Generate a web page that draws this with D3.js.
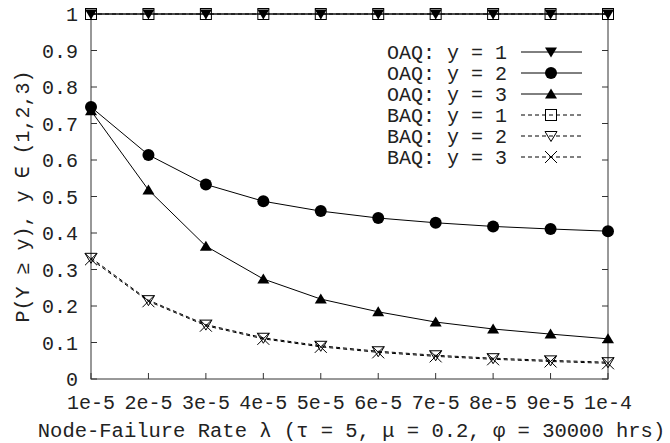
<!DOCTYPE html>
<html>
<head>
<meta charset="utf-8">
<script src="https://cdn.jsdelivr.net/npm/d3@7"></script>
<style>
  body { margin: 0; background: #fff; }
  svg { display: block; }
  text { font-family: "Liberation Mono", "Courier New", monospace; font-size: 20px; fill: #222; }
</style>
</head>
<body>
<svg id="chart" width="670" height="443"></svg>
<script>
// node failure rates (x) and tick labels
var rates = [1e-5, 2e-5, 3e-5, 4e-5, 5e-5, 6e-5, 7e-5, 8e-5, 9e-5, 1e-4]
var xTickLabels = ["1e-5", "2e-5", "3e-5", "4e-5", "5e-5", "6e-5", "7e-5", "8e-5", "9e-5", "1e-4"]
var yTicks = [0, 0.1, 0.2, 0.3, 0.4, 0.5, 0.6, 0.7, 0.8, 0.9, 1]
var yTickLabels = ["0", "0.1", "0.2", "0.3", "0.4", "0.5", "0.6", "0.7", "0.8", "0.9", "1"]

var oaq1 = [1, 1, 1, 1, 1, 1, 1, 1, 1, 1]
var oaq2 = [0.745, 0.614, 0.533, 0.487, 0.460, 0.441, 0.428, 0.418, 0.411, 0.405]
var oaq3 = [0.735, 0.518, 0.364, 0.274, 0.219, 0.184, 0.156, 0.137, 0.123, 0.110]
var baq1 = [1, 1, 1, 1, 1, 1, 1, 1, 1, 1]
var baq2 = [0.332, 0.216, 0.149, 0.113, 0.091, 0.076, 0.065, 0.057, 0.051, 0.046]
var baq3 = [0.328, 0.213, 0.146, 0.110, 0.088, 0.073, 0.062, 0.054, 0.048, 0.043]

var seriesNames = ["OAQ: y = 1", "OAQ: y = 2", "OAQ: y = 3", "BAQ: y = 1", "BAQ: y = 2", "BAQ: y = 3"]
var seriesValues = [oaq1, oaq2, oaq3, baq1, baq2, baq3]
var seriesMarkers = ["triDown", "circle", "triUp", "square", "triDownOpen", "cross"]
var seriesDashed = [false, false, false, true, true, true]

var margin = { top: 14, bottom: 64, left: 91, right: 62 }
var width = 670
var height = 443

var svg = d3.select("#chart")

var xScale = d3.scaleLinear()
    .domain([1e-5, 1e-4])
    .range([margin.left, width - margin.right])

var yScale = d3.scaleLinear()
    .domain([0, 1])
    .range([height - margin.bottom, margin.top])

var x0 = xScale.range()[0], x1 = xScale.range()[1]
var y0 = yScale.range()[0], y1 = yScale.range()[1]
var tickLen = 6

var axisG = svg.append("g")

// ticks (inward, mirrored like gnuplot)
yTicks.forEach(function (v, i) {
    var y = yScale(v)
    axisG.append("line").attr("x1", x0).attr("x2", x0 + tickLen).attr("y1", y).attr("y2", y)
        .attr("stroke", "#333")
    axisG.append("line").attr("x1", x1).attr("x2", x1 - tickLen).attr("y1", y).attr("y2", y)
        .attr("stroke", "#333")
    axisG.append("text")
        .attr("x", x0 - 13)
        .attr("y", y)
        .attr("dy", "0.35em")
        .attr("text-anchor", "end")
        .text(yTickLabels[i])
})

rates.forEach(function (v, i) {
    var x = xScale(v)
    axisG.append("line").attr("x1", x).attr("x2", x).attr("y1", y0).attr("y2", y0 - tickLen)
        .attr("stroke", "#333")
    axisG.append("line").attr("x1", x).attr("x2", x).attr("y1", y1).attr("y2", y1 + tickLen)
        .attr("stroke", "#333")
    axisG.append("text")
        .attr("x", x)
        .attr("y", y0 + 23)
        .attr("dy", "0.35em")
        .attr("text-anchor", "middle")
        .text(xTickLabels[i])
})

// border
axisG.append("rect")
    .attr("x", x0).attr("y", y1)
    .attr("width", x1 - x0).attr("height", y0 - y1)
    .attr("fill", "none")
    .attr("stroke", "#333")

// axis labels
svg.append("text")
    .attr("x", (x0 + x1) / 2 + 2)
    .attr("y", 430)
    .attr("dy", "0.35em")
    .attr("text-anchor", "middle")
    .style("font-size", "20.5px")
    .text("Node-Failure Rate λ (τ = 5, μ = 0.2, φ = 30000 hrs)")

svg.append("text")
    .attr("transform", "translate(22," + ((y0 + y1) / 2) + ") rotate(-90)")
    .attr("dy", "0.35em")
    .attr("text-anchor", "middle")
    .text("P(Y ≥ y), y ∈ (1,2,3)")

function drawMarker(g, type, x, y) {
    var s = 6
    if (type == "triDown") {
        g.append("path").attr("d", `M${x - s},${y - 4.5}L${x + s},${y - 4.5}L${x},${y + 5.5}Z`).attr("fill", "#000")
    } else if (type == "triUp") {
        g.append("path").attr("d", `M${x - s},${y + 4.5}L${x + s},${y + 4.5}L${x},${y - 5.5}Z`).attr("fill", "#000")
    } else if (type == "circle") {
        g.append("circle").attr("cx", x).attr("cy", y).attr("r", 6).attr("fill", "#000")
    } else if (type == "square") {
        g.append("rect").attr("x", x - 5.5).attr("y", y - 5.5).attr("width", 11).attr("height", 11)
            .attr("fill", "none").attr("stroke", "#000")
    } else if (type == "triDownOpen") {
        g.append("path").attr("d", `M${x - s},${y - 4.5}L${x + s},${y - 4.5}L${x},${y + 5.5}Z`)
            .attr("fill", "none").attr("stroke", "#000")
    } else if (type == "cross") {
        g.append("path").attr("d", `M${x - 6},${y - 6}L${x + 6},${y + 6}M${x - 6},${y + 6}L${x + 6},${y - 6}`)
            .attr("fill", "none").attr("stroke", "#000")
    }
}

var line = d3.line()
    .x(function (d, i) { return xScale(rates[i]) })
    .y(function (d) { return yScale(d) })

var plotG = svg.append("g")
seriesValues.forEach(function (vals, k) {
    plotG.append("path")
        .datum(vals)
        .attr("d", line)
        .attr("fill", "none")
        .attr("stroke", "#000")
        .attr("stroke-width", 1)
        .attr("stroke-dasharray", seriesDashed[k] ? "4,3" : null)
    vals.forEach(function (v, i) {
        drawMarker(plotG, seriesMarkers[k], xScale(rates[i]), yScale(v))
    })
})

// legend
var legendG = svg.append("g")
seriesNames.forEach(function (name, k) {
    var y = 52 + k * 21
    legendG.append("text")
        .attr("x", 507)
        .attr("y", y)
        .attr("dy", "0.35em")
        .attr("text-anchor", "end")
        .text(name)
    legendG.append("line")
        .attr("x1", 521).attr("x2", 582).attr("y1", y).attr("y2", y)
        .attr("stroke", "#000")
        .attr("stroke-dasharray", seriesDashed[k] ? "4,3" : null)
    drawMarker(legendG, seriesMarkers[k], 551, y)
})
</script>
</body>
</html>
